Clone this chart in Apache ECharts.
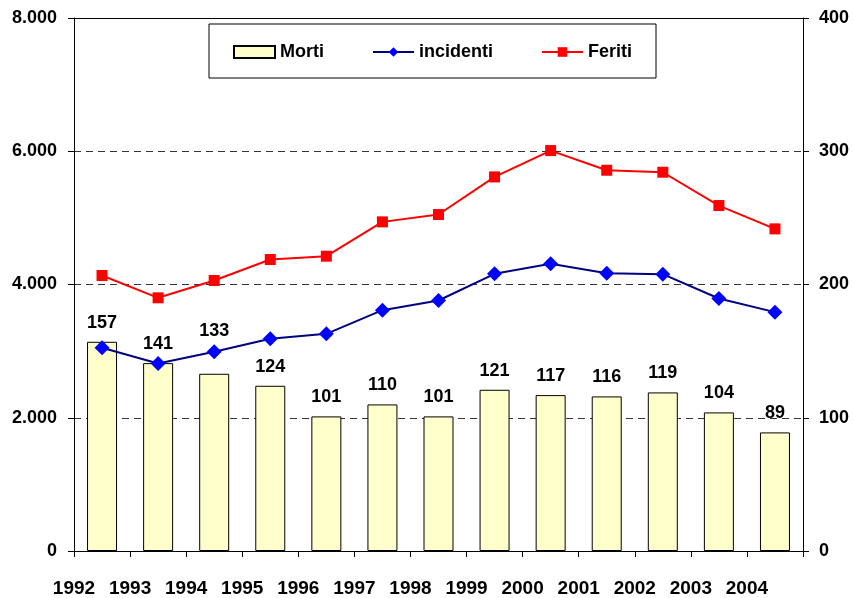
<!DOCTYPE html>
<html>
<head>
<meta charset="utf-8">
<script src="https://cdn.jsdelivr.net/npm/echarts@6/dist/echarts.min.js"></script>
<style>
  html, body { margin: 0; padding: 0; background: #fff; }
  #chart { width: 854px; height: 598px; }
</style>
</head>
<body>
<div id="chart"></div>
<script>
// Years along the category axis
const years = ['1992', '1993', '1994', '1995', '1996', '1997', '1998', '1999', '2000', '2001', '2002', '2003', '2004'];
// Deaths (right axis)
const morti = [157, 141, 133, 124, 101, 110, 101, 121, 117, 116, 119, 104, 89];
// Accidents (left axis)
const incidenti = [3050, 2815, 2990, 3185, 3260, 3615, 3760, 4160, 4310, 4170, 4155, 3790, 3585];
// Injured (left axis)
const feriti = [4135, 3800, 4060, 4375, 4425, 4940, 5050, 5615, 6010, 5715, 5685, 5185, 4835];

const FONT = 'Liberation Sans, Arial, sans-serif';
const txt = { fontFamily: FONT, fontWeight: 'bold', fontSize: 18, color: '#000' };

function thousands(v) {
  return String(v).replace(/\B(?=(\d{3})+(?!\d))/g, '.');
}

// The 1994 label is lifted clear of the accidents line
const mortiData = morti.map(function (v, i) {
  return i === 2 ? { value: v, label: { offset: [0, -24] } } : v;
});

const chart = echarts.init(document.getElementById('chart'), null, { renderer: 'canvas' });

chart.setOption({
  animation: false,
  backgroundColor: '#fff',
  grid: { left: 74, right: 51, top: 18, bottom: 46, containLabel: false },
  legend: {
    left: 209,
    top: 24,
    padding: [19, 24, 17, 24],
    borderColor: '#000',
    borderWidth: 1,
    backgroundColor: '#fff',
    itemWidth: 41,
    itemHeight: 12,
    itemGap: 48,
    textStyle: txt,
    data: [
      { name: 'Morti', icon: 'rect' },
      { name: 'incidenti' },
      { name: 'Feriti' }
    ]
  },
  xAxis: [
    {
      type: 'category',
      data: years,
      boundaryGap: true,
      position: 'bottom',
      axisLine: { show: true, lineStyle: { color: '#000', width: 1 } },
      axisTick: { show: true, length: 6, lineStyle: { color: '#000' } },
      axisLabel: { show: false },
      splitLine: { show: false }
    },
    {
      // Year labels sit on the category boundaries
      type: 'category',
      data: years.concat(['']),
      boundaryGap: false,
      position: 'bottom',
      axisLine: { show: false },
      axisTick: { show: false },
      axisLabel: Object.assign({ show: true, interval: 0, margin: 28 }, txt, { fontSize: 19 }),
      splitLine: { show: false }
    },
    {
      // Frame line along the top of the plot
      type: 'category',
      data: years,
      position: 'top',
      axisLine: { show: true, lineStyle: { color: '#000', width: 1 } },
      axisTick: { show: false },
      axisLabel: { show: false },
      splitLine: { show: false }
    }
  ],
  yAxis: [
    {
      type: 'value',
      position: 'left',
      min: 0,
      max: 8000,
      interval: 2000,
      axisLine: { show: true, lineStyle: { color: '#000', width: 1 } },
      axisTick: { show: true, length: 6, lineStyle: { color: '#000' } },
      axisLabel: Object.assign({ margin: 17, formatter: thousands }, txt),
      splitLine: { show: true, lineStyle: { color: '#333', width: 1, type: [7, 5] } }
    },
    {
      type: 'value',
      position: 'right',
      min: 0,
      max: 400,
      interval: 100,
      axisLine: { show: true, lineStyle: { color: '#000', width: 1 } },
      axisTick: { show: true, length: 6, lineStyle: { color: '#000' } },
      axisLabel: Object.assign({ margin: 16 }, txt),
      splitLine: { show: false }
    }
  ],
  series: [
    {
      name: 'Morti',
      type: 'bar',
      xAxisIndex: 0,
      yAxisIndex: 1,
      data: mortiData,
      barWidth: 30,
      itemStyle: { color: '#FFFFCC', borderColor: '#000', borderWidth: 1 },
      label: Object.assign({ show: true, position: 'top', distance: 10 }, txt),
      z: 2
    },
    {
      name: 'incidenti',
      type: 'line',
      xAxisIndex: 0,
      yAxisIndex: 0,
      data: incidenti,
      symbol: 'diamond',
      symbolSize: 15,
      showAllSymbol: true,
      lineStyle: { color: '#000080', width: 2 },
      itemStyle: { color: '#0000FF', borderWidth: 0 },
      z: 3
    },
    {
      name: 'Feriti',
      type: 'line',
      xAxisIndex: 0,
      yAxisIndex: 0,
      data: feriti,
      symbol: 'rect',
      symbolSize: 11,
      showAllSymbol: true,
      lineStyle: { color: '#FF0000', width: 2 },
      itemStyle: { color: '#FF0000', borderWidth: 0 },
      z: 3
    }
  ]
});
</script>
</body>
</html>
